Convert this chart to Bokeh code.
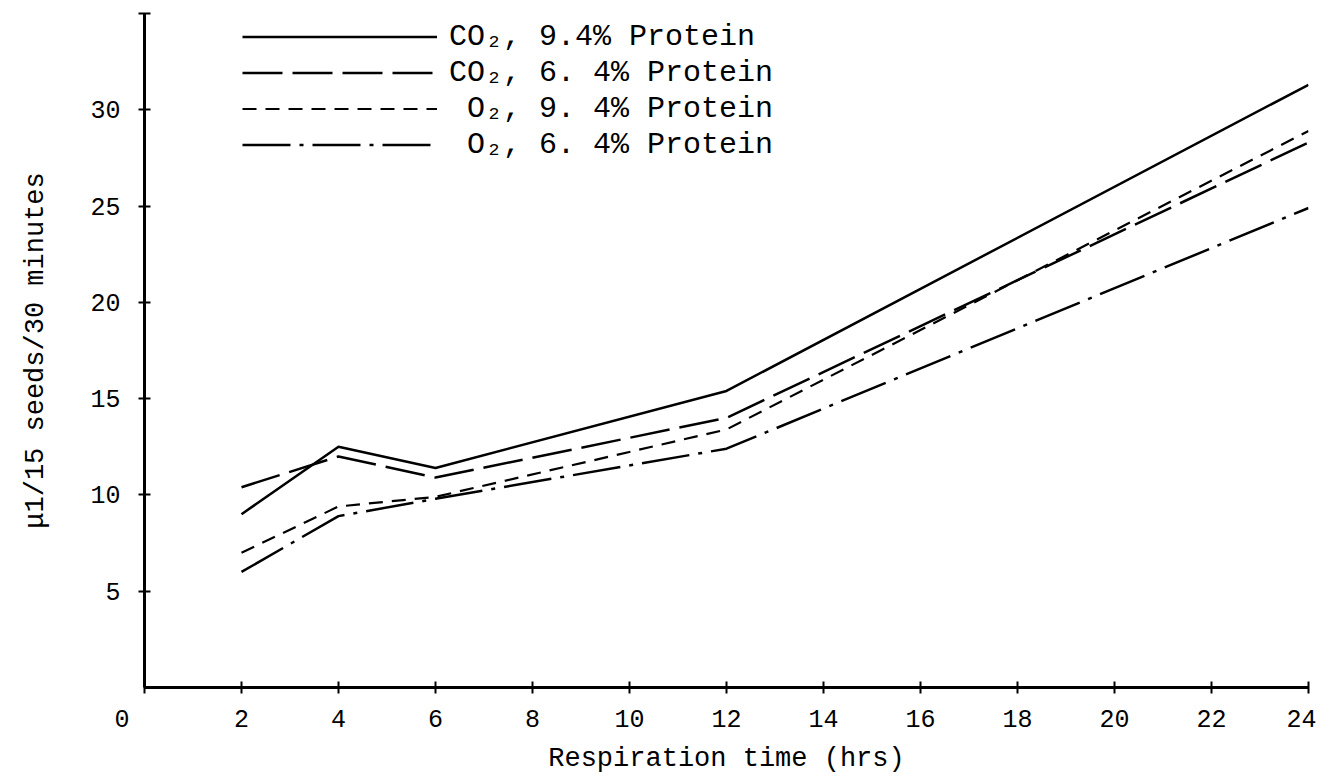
from bokeh.plotting import figure
from bokeh.models import FixedTicker, Legend, LegendItem, Range1d
from bokeh.embed import file_html
from bokeh.resources import INLINE

# ---- data ----
hours = [2, 4, 6, 12, 24]
co2_94 = [9.0, 12.5, 11.4, 15.4, 31.3]
co2_64 = [10.4, 12.0, 10.9, 14.0, 28.3]
o2_94 = [7.0, 9.4, 9.9, 13.4, 28.9]
o2_64 = [6.0, 8.9, 9.8, 12.4, 24.9]

series_labels = [
    "CO\u2082, 9.4% Protein",
    "CO\u2082, 6. 4% Protein",
    "\u00a0O\u2082, 9. 4% Protein",
    "\u00a0O\u2082, 6. 4% Protein",
]
x_ticks = [0, 2, 4, 6, 8, 10, 12, 14, 16, 18, 20, 22, 24]
y_ticks = [5, 10, 15, 20, 25, 30, 35]
x_title = "Respiration time (hrs)"
y_title = "\u03bc1/15 seeds/30 minutes"
origin_label = "0\u00a0\u00a0\u00a0"

FONT = "Liberation Mono"

p = figure(width=1316, height=776, output_backend="svg", toolbar_location=None,
           x_range=Range1d(0, 24), y_range=Range1d(0, 35),
           min_border_left=144, min_border_right=8, min_border_top=13, min_border_bottom=88)
p.outline_line_color = None
p.grid.visible = False
p.background_fill_color = "white"
p.border_fill_color = "white"

for ax in (p.xaxis[0], p.yaxis[0]):
    ax.axis_line_width = 3
    ax.axis_line_color = "black"
    ax.major_tick_line_width = 2
    ax.major_tick_in = 6
    ax.major_tick_out = 6
    ax.minor_tick_line_color = None
    ax.major_label_text_font = FONT
    ax.major_label_text_font_size = "25px"
    ax.major_label_text_color = "black"
    ax.axis_label_text_font = FONT
    ax.axis_label_text_font_size = "27px"
    ax.axis_label_text_font_style = "normal"
    ax.axis_label_text_color = "black"

p.xaxis.ticker = FixedTicker(ticks=x_ticks)
p.xaxis.major_label_overrides = {0: origin_label}
p.xaxis.major_label_standoff = 12
p.xaxis.axis_label = x_title
p.xaxis.axis_label_standoff = 6

p.yaxis.ticker = FixedTicker(ticks=y_ticks)
p.yaxis.major_label_overrides = {35: ""}
p.yaxis.major_label_standoff = 18
p.yaxis.axis_label = y_title
p.yaxis.axis_label_standoff = 36

r1 = p.line(hours, co2_94, line_color="black", line_width=2.5)
r2 = p.line(hours, co2_64, line_color="black", line_width=2.5, line_dash="40 10")
r3 = p.line(hours, o2_94, line_color="black", line_width=2.2, line_dash="14 9")
r4 = p.line(hours, o2_64, line_color="black", line_width=2.5, line_dash="48 9 4 9")

legend = Legend(items=[LegendItem(label=series_labels[i], renderers=[r])
                       for i, r in enumerate([r1, r2, r3, r4])],
                location=(98, 525), orientation="vertical",
                glyph_width=195, glyph_height=35, label_height=35, spacing=1,
                label_standoff=12, padding=0, margin=0,
                label_text_font=FONT, label_text_font_size="30px", label_text_color="black",
                border_line_alpha=0, background_fill_alpha=0)
p.add_layout(legend, "center")

open("out.html", "w").write(file_html(p, INLINE))
